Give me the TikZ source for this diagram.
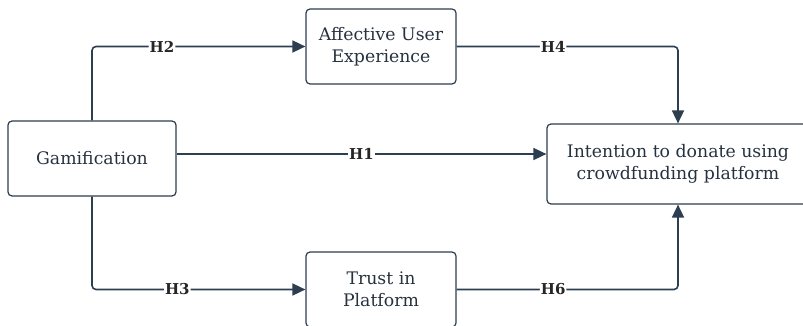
\documentclass[tikz,border=0pt]{standalone}
\usepackage{fontspec}
\setmainfont{DejaVu Serif}
\usepackage{tikz}
\usetikzlibrary{arrows.meta}
\usetikzlibrary{positioning}

\definecolor{slate}{HTML}{2C3E50}
\definecolor{ink}{HTML}{26323F}

\tikzset{
    construct/.style={rectangle, draw=slate, line width=1.2pt, rounded corners=4pt,
        text=ink, align=center, font=\fontsize{17.3}{21.5}\selectfont},
    link/.style={draw=slate, line width=1.6pt, rounded corners=4pt,
        -{Triangle[length=13pt, width=12pt]}},
    hyp/.style={fill=white, inner sep=1pt, text=black!85, font=\bfseries\fontsize{15}{15}\selectfont}
}

\begin{document}
\begin{tikzpicture}[x=1pt, y=-1pt]
        \useasboundingbox (0,0) rectangle (803,326);
        \node[construct, minimum width=168pt, minimum height=75pt](gam) at (92,158.5) {Gamification};
        \node[construct, minimum width=150pt, minimum height=75pt](aue) at (381,46.5) {Affective User\\Experience};
        \node[construct, minimum width=150pt, minimum height=75pt](tip) at (381,289.5) {Trust in\\Platform};
        \node[construct, minimum width=262pt, minimum height=80pt](icp) at (678,164) {Intention to donate using\\crowdfunding platform};
        % hypotheses
        \draw[link] ([yshift=4.5pt]gam.east) -- node[hyp, pos=0.5] {H1} ([yshift=10pt]icp.west);
        \draw[link] (gam.north) |- node[hyp, pos=0.664] {H2} (aue.west);
        \draw[link] (gam.south) |- node[hyp, pos=0.70] {H3} (tip.west);
        \draw[link] (aue.east) -| node[hyp, pos=0.218] {H4} (icp.north);
        \draw[link] (tip.east) -| node[hyp, pos=0.218] {H6} (icp.south);
    \end{tikzpicture}
\end{document}
